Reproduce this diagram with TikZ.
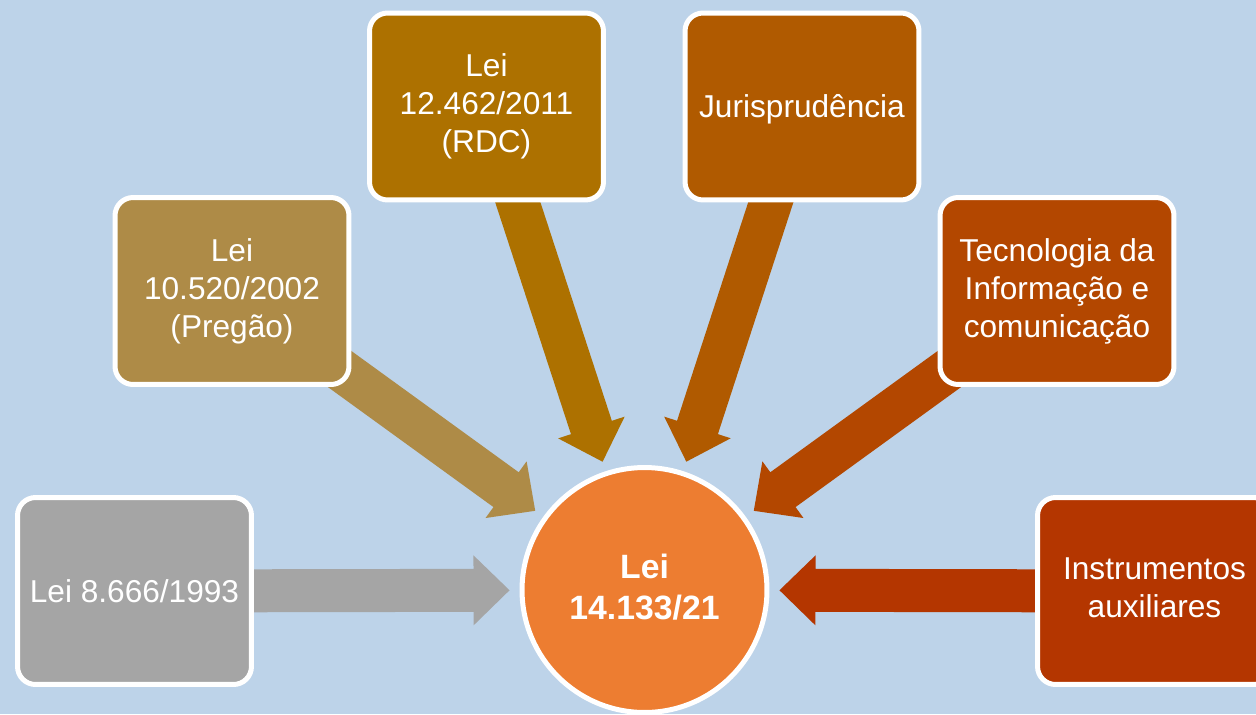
\documentclass[tikz,border=0pt]{standalone}
\usepackage{fontspec}
\setmainfont{Liberation Sans}
\usetikzlibrary{calc}
\pgfdeclarelayer{back}
\pgfsetlayers{back,main}
\definecolor{sky}{HTML}{BDD3E9}
\definecolor{c0}{HTML}{A5A5A5}
\definecolor{c1}{HTML}{AE8B47}
\definecolor{c2}{HTML}{AD7100}
\definecolor{c3}{HTML}{B05A00}
\definecolor{c4}{HTML}{B34700}
\definecolor{c5}{HTML}{B43600}
\definecolor{hubfill}{HTML}{ED7D31}
% block arrow: colour, from, to
\newcommand{\feedarrow}[3]{%
  \coordinate (tip) at ($(#3)!2.7cm!(#2)$);
  \coordinate (neck) at ($(#3)!3.42cm!(#2)$);
  \fill[#1] ($(#2)!0.43cm!90:(#3)$) -- ($(neck)!0.43cm!90:(#3)$)
    -- ($(neck)!0.7cm!90:(#3)$) -- (tip) -- ($(neck)!0.7cm!-90:(#3)$)
    -- ($(neck)!0.43cm!-90:(#3)$) -- ($(#2)!0.43cm!-90:(#3)$) -- cycle;}
\begin{document}
\begin{tikzpicture}[x=0.02cm, y=-0.02cm,
    lines/.style={execute at begin node=\rule{0pt}{0.93em},
      execute at end node=\rule[-0.19em]{0pt}{0.19em}},
    box/.style={lines, draw=white, line width=0.1cm, rounded corners=0.36cm,
      minimum width=4.68cm, minimum height=3.74cm, inner sep=2pt,
      text=white, align=center, font=\fontsize{18}{21.6}\selectfont},
    hub/.style={lines, circle, draw=white, fill=hubfill, line width=0.1cm,
      minimum size=4.9cm, inner sep=0pt, text=white, align=center,
      font=\fontsize{19.2}{23.2}\selectfont\bfseries}]
      \useasboundingbox (0,0) rectangle (1256,714);
      \draw
        (134.5,591) node[box, fill=c0] (0) {Lei 8.666/1993}
        (232,291) node[box, fill=c1] (1) {Lei\\10.520/2002\\(Pregão)}
        (486.5,106.5) node[box, fill=c2] (2) {Lei\\12.462/2011\\(RDC)}
        (802,106.5) node[box, fill=c3] (3) {Jurisprudência}
        (1057,291) node[box, fill=c4] (4) {Tecnologia da\\Informação e\\comunicação}
        (1154.5,591) node[box, fill=c5] (5) {Instrumentos\\auxiliares}
        (644.5,590) node[hub] (lei) {Lei\\14.133/21};
      \begin{pgfonlayer}{back}
        \fill[sky] (0,0) rectangle (1256,714);
        \feedarrow{c0}{0}{lei}
        \feedarrow{c1}{1}{lei}
        \feedarrow{c2}{2}{lei}
        \feedarrow{c3}{3}{lei}
        \feedarrow{c4}{4}{lei}
        \feedarrow{c5}{5}{lei}
      \end{pgfonlayer}
    \end{tikzpicture}
\end{document}
